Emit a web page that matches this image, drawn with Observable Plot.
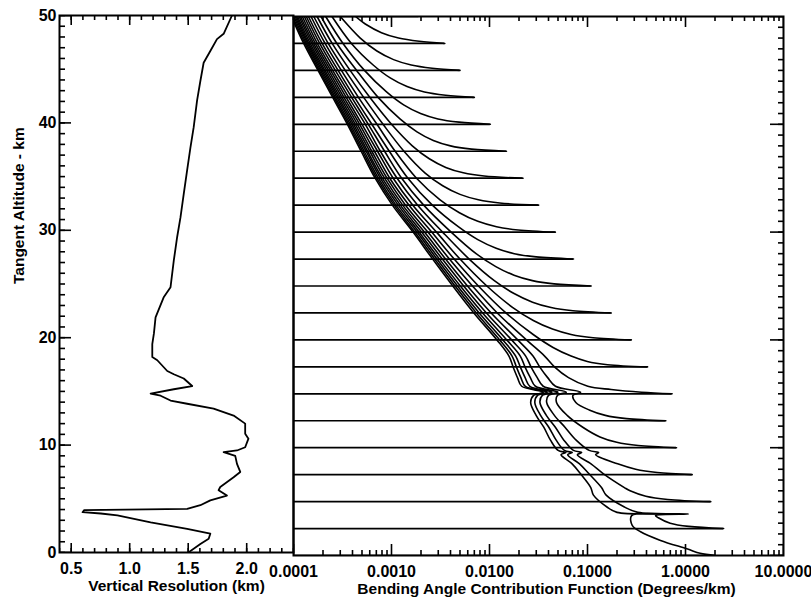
<!DOCTYPE html>
<html><head><meta charset="utf-8">
<script src="https://cdn.jsdelivr.net/npm/d3@7"></script>
<script src="https://cdn.jsdelivr.net/npm/@observablehq/plot@0.6"></script>
<style>
html,body{margin:0;padding:0;background:#fff;}
#wrap{position:relative;width:811px;height:597px;overflow:hidden;background:#fff;}
#wrap svg{position:absolute;left:0;top:0;}
</style></head><body><div id="wrap"></div>
<script>
// ---- axis ticks / labels ----
const altitudeTicks = [0, 10, 20, 30, 40, 50];
const resolutionTicks = [0.5, 1.0, 1.5, 2.0];
const contributionTicks = [0.0001, 0.001, 0.01, 0.1, 1, 10];
const contributionLabels = ["0.0001", "0.0010", "0.0100", "0.1000", "1.0000", "10.0000"];
const xMin = 0.0001;
const altitudeMinor = d3.range(0, 51, 1);
const resolutionMinor = d3.range(4, 25).map(k => k / 10);
const contributionMinor = contributionTicks.slice(0, -1).flatMap(d => [2, 3, 4, 5, 6, 7, 8, 9].map(k => d * k));

// ---- left panel: vertical resolution profile [altitude km, resolution km] ----
const resolution = [
  [50.0,1.874],[48.3,1.803],[47.8,1.746],[46.7,1.689],[45.6,1.632],[43.9,1.604],[42.1,1.576],
  [39.6,1.547],[37.7,1.519],[35.6,1.491],[33.4,1.462],[31.2,1.434],[29.4,1.406],[27.2,1.377],
  [24.7,1.349],[23.8,1.292],[21.9,1.221],[20.4,1.207],[19.4,1.193],[18.2,1.193],[17.9,1.236],
  [16.9,1.321],[16.6,1.377],[16.2,1.462],[15.5,1.534],[15.2,1.377],[14.8,1.179],[14.6,1.264],
  [14.15,1.349],[13.85,1.491],[13.4,1.717],[12.75,1.888],[12.0,1.987],[11.05,1.987],[10.6,2.015],
  [9.8,1.987],[9.5,1.917],[9.35,1.803],[9.0,1.902],[8.25,1.917],[7.5,1.945],[7.0,1.888],
  [6.1,1.774],[5.8,1.760],[5.3,1.831],[4.85,1.689],[4.4,1.604],[4.07,1.491],[3.94,0.611],
  [3.75,0.597],[3.63,0.753],[3.45,0.895],[2.8,1.179],[2.2,1.491],[1.75,1.689],[1.28,1.675],
  [0.8,1.604],[0.03,1.505]
];

// ---- right panel: tangent altitudes and the end value of each horizontal line ----
const tangentHeights = [0, 2.5, 5, 7.5, 10, 12.5, 15, 17.5, 20, 22.5, 25, 27.5, 30, 32.5, 35, 37.5, 40, 42.5, 45, 47.5, 50];
const peakValues = [2.0, 2.45, 1.81, 1.17, 0.81, 0.63, 0.73, 0.41, 0.28, 0.175, 0.109, 0.072, 0.047, 0.0317, 0.022, 0.0149, 0.0102, 0.007, 0.005, 0.0035, 0.0019];

// contribution curves [altitude km, degrees/km]
const curveH0 = [[0,2.0],[0.2,1.41],[0.6,1.05],[1.4,0.556],[2.2,0.348],[2.8,0.286],[3.7,0.282],[3.85,0.631],[4.0,0.2],[4.5,0.158],[5.6,0.115],[6.3,0.108],[7.6,0.0845],[8.5,0.0697],[9.35,0.0537],[9.55,0.0603],[9.75,0.0501],[10.7,0.0419],[11.9,0.0358],[13,0.0299],[14.2,0.0263],[14.85,0.0282],[15.15,0.0355],[15.7,0.0213],[16.5,0.0193],[17.5,0.0174],[18.5,0.0158],[20,0.0119],[22.5,0.00692],[25,0.00422],[27.5,0.00263],[30,0.00166],[32.5,0.00102],[35,0.000681],[37.5,0.00049],[40,0.000355],[42.5,0.000251],[45,0.000178],[47.5,0.000127],[50,0.0000955]];
const curveH2_5 = [[2.5,2.45],[2.7,1.08],[3.0,0.698],[3.5,0.528],[3.7,0.495],[3.85,1.07],[4.0,0.326],[4.5,0.238],[5.6,0.155],[6.3,0.139],[7.6,0.103],[8.5,0.083],[9.35,0.0628],[9.55,0.070],[9.75,0.0581],[10.7,0.0479],[11.9,0.0403],[13,0.0332],[14.2,0.029],[14.85,0.0309],[15.15,0.0388],[15.7,0.0232],[16.5,0.0209],[17.5,0.0188],[18.5,0.017],[20,0.0127],[22.5,0.00734],[25,0.00445],[27.5,0.00276],[30,0.00173],[32.5,0.001065],[35,0.000706],[37.5,0.000507],[40,0.000366],[42.5,0.000259],[45,0.000183],[47.5,0.000131],[50,0.000098]];
const curveH5 = [[5,1.81],[5.2,0.659],[5.5,0.394],[6.0,0.272],[6.3,0.238],[7.6,0.1445],[8.5,0.1086],[9.35,0.0787],[9.55,0.0873],[9.75,0.0718],[10.7,0.0574],[11.9,0.047],[13,0.038],[14.2,0.0327],[14.85,0.0346],[15.15,0.0434],[15.7,0.0258],[16.5,0.0231],[17.5,0.0206],[18.5,0.0185],[20,0.0137],[22.5,0.00785],[25,0.00472],[27.5,0.00291],[30,0.00182],[32.5,0.00111],[35,0.000735],[37.5,0.000526],[40,0.000379],[42.5,0.000267],[45,0.000189],[47.5,0.000135],[50,0.000101]];
const curveH7_5 = [[7.5,1.17],[7.7,0.514],[8.0,0.31],[8.5,0.203],[9.35,0.121],[9.55,0.13],[9.75,0.104],[10.7,0.0766],[11.9,0.0589],[13,0.0459],[14.2,0.0383],[14.85,0.040],[15.15,0.0499],[15.7,0.0294],[16.5,0.0261],[17.5,0.023],[18.5,0.0206],[20,0.015],[22.5,0.0085],[25,0.00504],[27.5,0.00308],[30,0.00191],[32.5,0.00117],[35,0.00077],[37.5,0.00055],[40,0.000394],[42.5,0.000277],[45,0.000195],[47.5,0.000139],[50,0.000104]];
const curveH10 = [[10,0.81],[10.2,0.329],[10.5,0.199],[11,0.134],[11.9,0.0895],[13,0.062],[14.2,0.0483],[14.85,0.0493],[15.15,0.0608],[15.7,0.0353],[16.5,0.0307],[17.5,0.0265],[18.5,0.0234],[20,0.0168],[22.5,0.0093],[25,0.00545],[27.5,0.0033],[30,0.00203],[32.5,0.00123],[35,0.000805],[37.5,0.00057],[40,0.00041],[42.5,0.000287],[45,0.000202],[47.5,0.000143],[50,0.000107]];
const curveH12_5 = [[12.5,0.63],[12.7,0.25],[13,0.152],[13.5,0.104],[14.2,0.076],[14.85,0.071],[15.15,0.085],[15.7,0.0471],[16.5,0.0392],[17.5,0.0325],[18.5,0.0278],[20,0.0194],[22.5,0.0104],[25,0.00596],[27.5,0.00356],[30,0.00217],[32.5,0.0013],[35,0.00085],[37.5,0.0006],[40,0.000428],[42.5,0.000299],[45,0.000209],[47.5,0.000148],[50,0.00011]];
const curveH15 = [[15,0.73],[15.15,0.356],[15.4,0.1745],[15.7,0.1007],[16.5,0.064],[17.5,0.046],[18.5,0.0365],[20,0.0238],[22.5,0.012],[25,0.0067],[27.5,0.0039],[30,0.00235],[32.5,0.00139],[35,0.0009],[37.5,0.00063],[40,0.000449],[42.5,0.000312],[45,0.000218],[47.5,0.000154],[50,0.000114]];
const curveH17_5 = [[17.5,0.41],[17.7,0.16],[18,0.0995],[18.5,0.068],[19.3,0.0445],[20.5,0.0279],[22.5,0.0147],[25,0.0077],[27.5,0.00436],[30,0.00257],[32.5,0.00151],[35,0.00096],[37.5,0.00067],[40,0.000473],[42.5,0.000327],[45,0.000228],[47.5,0.00016],[50,0.000118]];
const curveH20 = [[20,0.28],[20.2,0.114],[20.5,0.068],[21,0.0439],[21.8,0.028],[23,0.0173],[25,0.0094],[27.5,0.005],[30,0.00288],[32.5,0.00165],[35,0.00104],[37.5,0.00072],[40,0.0005],[42.5,0.000345],[45,0.000239],[47.5,0.000167],[50,0.000123]];
const curveH22_5 = [[22.5,0.175],[22.7,0.071],[23,0.0425],[23.5,0.0275],[24.3,0.0178],[25.5,0.0112],[27.5,0.0062],[30,0.00332],[32.5,0.00185],[35,0.00114],[37.5,0.00077],[40,0.00054],[42.5,0.000366],[45,0.000251],[47.5,0.000175],[50,0.000129]];
const curveH25 = [[25,0.109],[25.2,0.0456],[25.5,0.0274],[26,0.0178],[26.8,0.0116],[28,0.0073],[30,0.00406],[32.5,0.00213],[35,0.00127],[37.5,0.00085],[40,0.00058],[42.5,0.000392],[45,0.000267],[47.5,0.000185],[50,0.000135]];
const curveH27_5 = [[27.5,0.072],[27.7,0.0299],[28,0.0179],[28.5,0.0117],[29.3,0.0076],[30.5,0.0048],[32.5,0.00261],[35,0.00147],[37.5,0.00095],[40,0.00063],[42.5,0.00042],[45,0.000285],[47.5,0.000196],[50,0.000142]];
const curveH30 = [[30,0.047],[30.2,0.0196],[30.5,0.0118],[31,0.0076],[31.8,0.00493],[33,0.00313],[35,0.0018],[37.5,0.00109],[40,0.00071],[42.5,0.00046],[45,0.000308],[47.5,0.00021],[50,0.000151]];
const curveH32_5 = [[32.5,0.0317],[32.7,0.0127],[33,0.0077],[33.5,0.005],[34.3,0.00333],[35.5,0.00219],[37.5,0.00134],[40,0.00082],[42.5,0.00052],[45,0.000337],[47.5,0.000226],[50,0.000161]];
const curveH35 = [[35,0.022],[35.2,0.0088],[35.5,0.0054],[36,0.00358],[36.8,0.00243],[38,0.00163],[40,0.001],[42.5,0.0006],[45,0.000378],[47.5,0.000248],[50,0.000174]];
const curveH37_5 = [[37.5,0.0149],[37.7,0.00656],[38,0.004],[38.5,0.00267],[39.3,0.00182],[40.5,0.00122],[42.5,0.00073],[45,0.00044],[47.5,0.000277],[50,0.000191]];
const curveH40 = [[40,0.0102],[40.2,0.0049],[40.5,0.00298],[41,0.00198],[41.8,0.00133],[43,0.00089],[45,0.00053],[47.5,0.00032],[50,0.000213]];
const curveH42_5 = [[42.5,0.007],[42.7,0.00357],[43,0.00217],[43.5,0.00144],[44.3,0.00097],[45.5,0.00065],[47.5,0.00039],[50,0.000247]];
const curveH45 = [[45,0.005],[45.2,0.0026],[45.5,0.00159],[46,0.00105],[46.8,0.00071],[48,0.00048],[50,0.0003]];
const curveH47_5 = [[47.5,0.0035],[47.7,0.00192],[48,0.00118],[48.5,0.00079],[49.3,0.00054],[50,0.00043]];

const curves = [curveH0, curveH2_5, curveH5, curveH7_5, curveH10, curveH12_5, curveH15, curveH17_5, curveH20,
  curveH22_5, curveH25, curveH27_5, curveH30, curveH32_5, curveH35, curveH37_5, curveH40, curveH42_5, curveH45, curveH47_5];

const curveRows = curves.flatMap((pts, i) => pts.map(([z, v]) => ({h: tangentHeights[i], z, v})));
const lineRows = tangentHeights.map((h, i) => ({h, peak: peakValues[i]}));
const profileRows = resolution.map(([z, v]) => ({z, v}));

const FONT = "'Liberation Sans', Arial, Helvetica, sans-serif";
const baseStyle = {fontFamily: FONT, fontSize: "16px", fontWeight: "bold", background: "transparent", overflow: "visible", color: "#000"};
const T = {stroke: "#000", strokeWidth: 1.6, clip: true};

// left panel geometry: plot area 234 x 537
const LW = 234, LH = 537;
const leftPlot = Plot.plot({
  width: 294, height: 597,
  marginLeft: 59, marginRight: 1, marginTop: 15, marginBottom: 45,
  style: baseStyle,
  x: {type: "linear", domain: [0.4, 2.4]},
  y: {domain: [0, 50]},
  marks: [
    Plot.axisX(resolutionTicks, {anchor: "bottom", tickSize: 0, tickPadding: 10, tickFormat: d3.format(".1f"), label: null, fill: "#000"}),
    Plot.axisY(altitudeTicks, {anchor: "left", tickSize: 0, tickPadding: 3, label: null, fill: "#000"}),
    Plot.ruleX(resolutionTicks, {x: d => d, insetTop: LH - 9, ...T}),
    Plot.ruleX(resolutionMinor, {x: d => d, insetTop: LH - 4, ...T}),
    Plot.ruleX(resolutionTicks, {x: d => d, insetBottom: LH - 10, ...T}),
    Plot.ruleX(resolutionMinor, {x: d => d, insetBottom: LH - 5, ...T}),
    Plot.ruleY(altitudeTicks, {y: d => d, insetRight: LW - 12, ...T}),
    Plot.ruleY(altitudeMinor, {y: d => d, insetRight: LW - 6, ...T}),
    Plot.line(profileRows, {x: "v", y: "z", stroke: "#000", strokeWidth: 1.8, clip: true}),
    Plot.frame({stroke: "#000", strokeWidth: 2}),
    Plot.text(["Vertical Resolution (km)"], {frameAnchor: "bottom", lineAnchor: "top", dy: 27, fontSize: 15.5, fontWeight: "bold", fill: "#000"}),
    Plot.text(["Tangent Altitude - km"], {frameAnchor: "left", lineAnchor: "middle", rotate: -90, dx: -40, fontSize: 15.5, fontWeight: "bold", fill: "#000"})
  ]
});

// right panel geometry: plot area 490 x 539
const RW = 490, RH = 539;
const rightPlot = Plot.plot({
  width: 811, height: 597,
  marginLeft: 293, marginRight: 28, marginTop: 16, marginBottom: 42,
  style: baseStyle,
  x: {type: "log", domain: [xMin, 10]},
  y: {domain: [0, 50], axis: null},
  marks: [
    Plot.axisX(contributionTicks, {anchor: "bottom", tickSize: 0, tickPadding: 10, tickFormat: d => contributionLabels[contributionTicks.indexOf(d)], label: null, fill: "#000"}),
    Plot.ruleX(contributionTicks, {x: d => d, insetTop: RH - 11, ...T}),
    Plot.ruleX(contributionMinor, {x: d => d, insetTop: RH - 5, ...T}),
    Plot.ruleX(contributionTicks, {x: d => d, insetBottom: RH - 11, ...T}),
    Plot.ruleX(contributionMinor, {x: d => d, insetBottom: RH - 5, ...T}),
    Plot.ruleY(altitudeTicks, {y: d => d, insetLeft: RW - 13, ...T}),
    Plot.ruleY(altitudeMinor, {y: d => d, insetLeft: RW - 5, ...T}),
    Plot.ruleY(lineRows, {y: "h", x1: xMin, x2: "peak", stroke: "#000", strokeWidth: 1.7, clip: true}),
    Plot.line(curveRows, {x: "v", y: "z", z: "h", stroke: "#000", strokeWidth: 1.6, curve: "catmull-rom", clip: true}),
    Plot.frame({stroke: "#000", strokeWidth: 2}),
    Plot.text(["Bending Angle Contribution Function (Degrees/km)"], {frameAnchor: "bottom", lineAnchor: "top", dy: 27, dx: 8, fontSize: 15.5, fontWeight: "bold", fill: "#000"})
  ]
});

const wrap = document.getElementById("wrap");
wrap.appendChild(leftPlot);
wrap.appendChild(rightPlot);
</script>
</body></html>
